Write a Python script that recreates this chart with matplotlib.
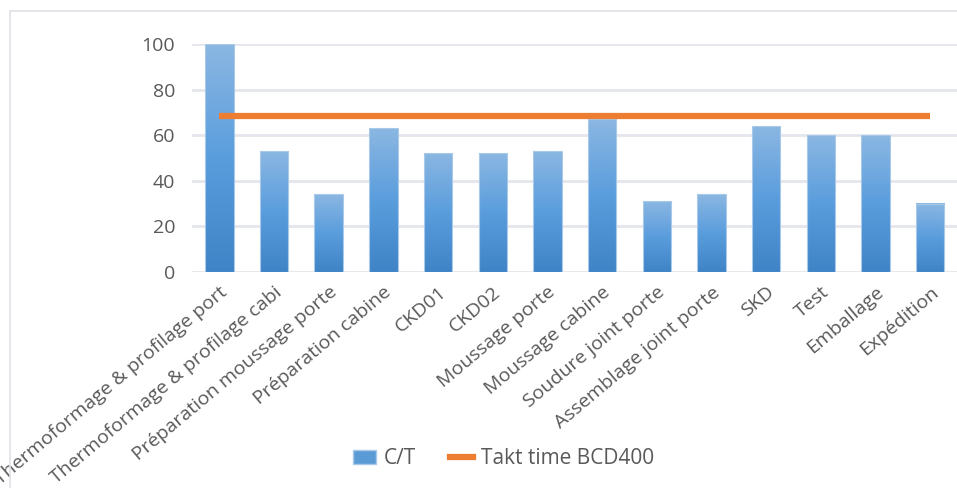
import numpy as np
import matplotlib.pyplot as plt
from matplotlib.lines import Line2D
from matplotlib.patches import Patch, Rectangle
from matplotlib.colors import LinearSegmentedColormap

# postes de la ligne BCD400
postes = ["Thermoformage & profilage port", "Thermoformage & profilage cabi",
          "Préparation moussage porte", "Préparation cabine", "CKD01", "CKD02",
          "Moussage porte", "Moussage cabine", "Soudure joint porte",
          "Assemblage joint porte", "SKD", "Test", "Emballage", "Expédition"]
ct = [100, 53, 34, 63, 52, 52, 53, 67, 31, 34, 64, 60, 60, 30]
takt = [68.5] * len(postes)
yticks = [0, 20, 40, 60, 80, 100]

plt.rcParams['font.family'] = ['Open Sans', 'DejaVu Sans']
gris = "#595959"

fig = plt.figure(figsize=(9.57, 4.88), dpi=100)
ax = fig.add_axes([0.2006, 0.4426, 0.80, 0.4672])

x = np.arange(len(postes))
larg = 0.52
bars = ax.bar(x, ct, width=larg, color="none", edgecolor="#a9c9ea", linewidth=0.8, zorder=3)

# degrade bleu sur chaque barre (clair en haut, fonce en bas)
grad = np.linspace(0, 1, 256).reshape(-1, 1)
cmap = LinearSegmentedColormap.from_list("bleu", ["#3f84c6", "#5a9ddd", "#8bb7e2"])
for b in bars:
    x0, y0 = b.get_x(), b.get_y()
    ax.imshow(grad, extent=[x0, x0 + b.get_width(), y0, y0 + b.get_height()],
              origin="lower", cmap=cmap, aspect="auto", zorder=2)

ax.plot(x, takt, color="#ed7d31", linewidth=4.5, solid_capstyle="butt", zorder=4)

ax.set_xlim(-0.5, len(postes) - 0.5)
ax.set_ylim(0, 100)
ax.set_yticks(yticks)
ax.set_xticks(x)
ax.set_xticklabels(postes, rotation=40, ha="right", rotation_mode="anchor")
ax.tick_params(axis="x", length=0, pad=8, labelsize=14, labelcolor=gris)
ax.tick_params(axis="y", length=0, pad=12, labelsize=14, labelcolor=gris)
ax.yaxis.grid(True, color="#e3e6ec", linewidth=2)
ax.set_axisbelow(True)
for s in ax.spines.values():
    s.set_visible(False)

# cadre du graphique
fig.patches.append(Rectangle((10 / 957, -0.1), 1.2, 1 - 11 / 488 + 0.1, transform=fig.transFigure,
                             fill=False, edgecolor="#e0e2e6", linewidth=1.2))

handles = [Patch(facecolor="#5b9bd5", edgecolor="#a9c9ea", label="C/T"),
           Line2D([0], [0], color="#ed7d31", linewidth=4.5, label="Takt time BCD400")]
fig.legend(handles=handles, loc="center", bbox_to_anchor=(0.526, 0.06), ncol=2,
           frameon=False, fontsize=15, labelcolor=gris, handlelength=1.1,
           handletextpad=0.4, columnspacing=1.6)

fig.savefig("out.png", dpi=100)
